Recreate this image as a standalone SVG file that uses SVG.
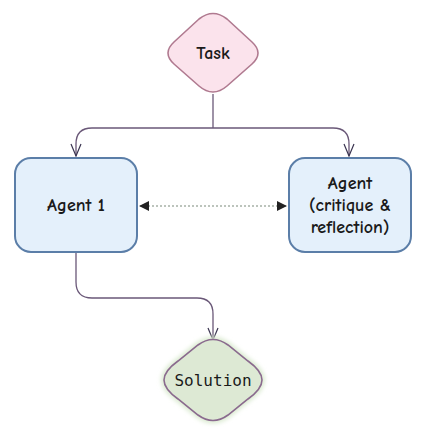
<svg xmlns="http://www.w3.org/2000/svg" width="422" height="441" viewBox="0 0 422 441">
<defs>
<marker id="open" markerWidth="14" markerHeight="12" refX="13" refY="6" orient="auto-start-reverse" markerUnits="userSpaceOnUse" viewBox="0 0 14 12">
<path d="M1,1 L13,6 L1,11" fill="none" stroke="#3a3450" stroke-width="1.2"/>
</marker>
<marker id="solid" markerWidth="10" markerHeight="10" refX="9" refY="5" orient="auto-start-reverse" markerUnits="userSpaceOnUse" viewBox="0 0 10 10">
<path d="M0,0 L10,5 L0,10 Z" fill="#222"/>
</marker>
<filter id="glow" x="-20%" y="-20%" width="140%" height="140%">
<feGaussianBlur stdDeviation="2"/>
</filter>
</defs>
<style>
.lbl{font-family:"Comic Neue","Comic Sans MS","DejaVu Sans",sans-serif;font-size:18px;font-weight:bold;fill:#1a1a1a;text-anchor:middle}
.mono{font-family:"DejaVu Sans Mono","Liberation Mono",monospace;font-size:16px;fill:#1a1a1a;text-anchor:middle}
.box{fill:#e4f0fb;stroke:#5b7ea8;stroke-width:2}
.edge{fill:none;stroke:#6a5878;stroke-width:1.3}
</style>
<g id="connectors">
<path class="edge" d="M213,94 V128"/>
<path class="edge" d="M213,128 H92 Q76,128 76,144 V156" marker-end="url(#open)"/>
<path class="edge" d="M213,128 H333 Q349,128 349,144 V156" marker-end="url(#open)"/>
<path class="edge" d="M76,253 V282 Q76,298 92,298 H197 Q213,298 213,314 V340" marker-end="url(#open)"/>
<path d="M140,206 H286" fill="none" stroke="#7a8a7a" stroke-width="1.2" stroke-dasharray="2,2" marker-start="url(#solid)" marker-end="url(#solid)"/>
</g>
<g id="task">
<path d="M199,19 Q213,8 227,19 L252,42 Q264,53 252,64 L227,86 Q213,98 199,86 L174,64 Q162,53 174,42 Z" fill="#fbe3ec" stroke="#b07a90" stroke-width="1.6"/>
<text class="lbl" x="213" y="59">Task</text>
</g>
<g id="agent1">
<rect class="box" x="15" y="158" width="122" height="94" rx="16"/>
<text class="lbl" x="76" y="211">Agent 1</text>
</g>
<g id="agent2">
<rect class="box" x="289" y="158" width="122" height="94" rx="16"/>
<text class="lbl" x="350" y="189">Agent</text>
<text class="lbl" x="350" y="211">(critique &amp;</text>
<text class="lbl" x="350" y="233">reflection)</text>
</g>
<g id="solution">
<path d="M198,345 Q213,334 228,345 L248,361 Q262,371 262,380 Q262,389 248,399 L228,415 Q213,426 198,415 L178,399 Q164,389 164,380 Q164,371 178,361 Z" fill="#dcebd2" stroke="#dcebd2" stroke-width="6" filter="url(#glow)"/>
<path d="M198,345 Q213,334 228,345 L248,361 Q262,371 262,380 Q262,389 248,399 L228,415 Q213,426 198,415 L178,399 Q164,389 164,380 Q164,371 178,361 Z" fill="#dde9d4" stroke="#8a6a8e" stroke-width="1.6"/>
<text class="mono" x="213" y="386">Solution</text>
</g>
</svg>
